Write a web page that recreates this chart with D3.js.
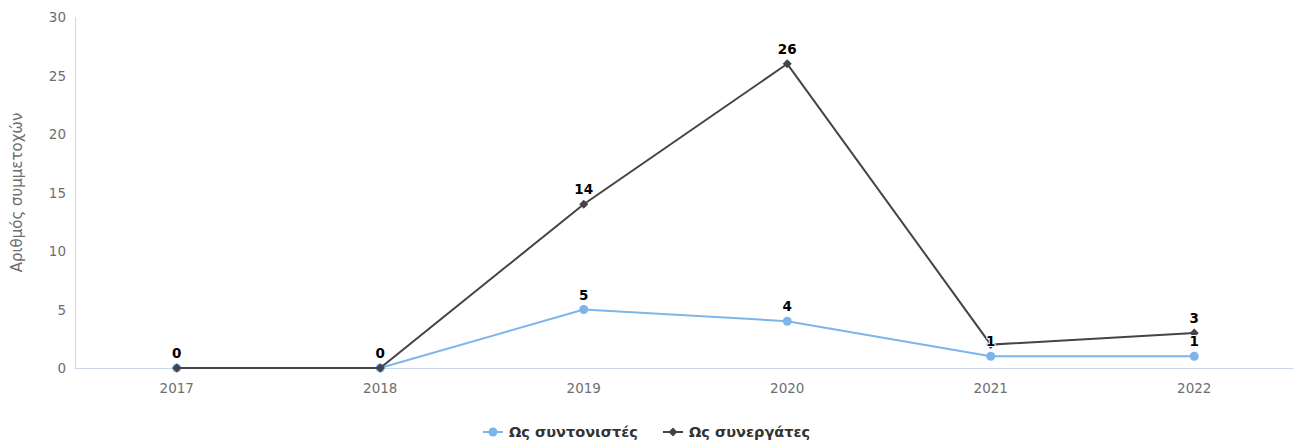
<!DOCTYPE html>
<html><head><meta charset="utf-8">
<script src="https://cdn.jsdelivr.net/npm/d3@7"></script>
<style>body{margin:0;background:#fff}svg{display:block}text{font-family:"DejaVu Sans",sans-serif}</style>
</head><body>
<svg id="c" width="1293" height="443"></svg>
<script>
const categories = ["2017","2018","2019","2020","2021","2022"];
const coordinators = [0,0,5,4,1,1];
const partners = [0,0,14,26,2,3];
const yTicks = [0,5,10,15,20,25,30];
const seriesNames = ["Ως συντονιστές","Ως συνεργάτες"];
// labels hidden in the reference because they overlap
const hiddenLabels = {"Ως συνεργάτες":["2017","2021"]};

const svg = d3.select("#c");
const W = 1293, H = 443;
const m = {l:75, r:-3, t:17, b:75};
const x = d3.scaleBand().domain(categories).range([m.l, W - m.r]);
const y = d3.scaleLinear().domain([0,30]).range([H - m.b, m.t]);
const cx = d => x(d) + x.bandwidth()/2;

svg.append("line").attr("x1",m.l+0.5).attr("x2",m.l+0.5).attr("y1",y(30)).attr("y2",y(0)).attr("stroke","#ccd6eb");
svg.append("line").attr("x1",m.l).attr("x2",W).attr("y1",y(0)+0.5).attr("y2",y(0)+0.5).attr("stroke","#ccd6eb");

svg.selectAll(".yt").data(yTicks).join("text")
  .attr("x",66).attr("y",d=>y(d)+5).attr("text-anchor","end")
  .attr("font-size",13.5).attr("fill","#6e6e6e").text(d=>d);
svg.selectAll(".xt").data(categories).join("text")
  .attr("x",d=>cx(d)).attr("y",y(0)+25).attr("text-anchor","middle")
  .attr("font-size",13.5).attr("fill","#6e6e6e").text(d=>d);
svg.append("text").attr("transform",`translate(22,${(y(0)+y(30))/2}) rotate(-90)`)
  .attr("text-anchor","middle").attr("font-size",15).attr("fill","#6e6e6e")
  .text("Αριθμός συμμετοχών");

const diamond = r => `M0,${-r}L${r},0L0,${r}L${-r},0Z`;
const series = [
  {name:seriesNames[0], values:coordinators, color:"#7cb5ec", marker:"circle"},
  {name:seriesNames[1], values:partners, color:"#434348", marker:"diamond"}
];
const line = d3.line().x(d=>cx(d[0])).y(d=>y(d[1]));
const sym = {circle:d3.symbol(d3.symbolCircle,Math.PI*4.5*4.5)(), diamond:diamond(4.5)};

series.forEach(s=>{
  const pts = categories.map((c,i)=>[c,s.values[i]]);
  svg.append("path").attr("d",line(pts)).attr("fill","none").attr("stroke",s.color).attr("stroke-width",2);
  svg.selectAll(null).data(pts).join("path")
    .attr("transform",d=>`translate(${cx(d[0])},${y(d[1])})`)
    .attr("d",sym[s.marker]).attr("fill",s.color);
});
series.forEach(s=>{
  const pts = categories.map((c,i)=>[c,s.values[i]]).filter(d=>!(hiddenLabels[s.name]||[]).includes(d[0]));
  svg.selectAll(null).data(pts).join("text")
    .attr("x",d=>cx(d[0])).attr("y",d=>y(d[1])-10).attr("text-anchor","middle")
    .attr("font-size",13.5).attr("font-weight","bold").attr("fill","#000")
    .attr("stroke","#fff").attr("stroke-width",2).attr("paint-order","stroke").attr("stroke-linejoin","round")
    .text(d=>d[1]);
});

const items = [{s:series[0],x:483},{s:series[1],x:663}];
items.forEach(it=>{
  const g = svg.append("g").attr("transform",`translate(${it.x},432)`);
  g.append("line").attr("x1",0).attr("x2",20).attr("y1",0).attr("y2",0).attr("stroke",it.s.color).attr("stroke-width",2);
  g.append("path").attr("transform","translate(10,0)").attr("d",sym[it.s.marker]).attr("fill",it.s.color);
  g.append("text").attr("x",26).attr("y",5).attr("font-size",14.5).attr("font-weight","bold").attr("fill","#333").text(it.s.name);
});
</script>
</body></html>
